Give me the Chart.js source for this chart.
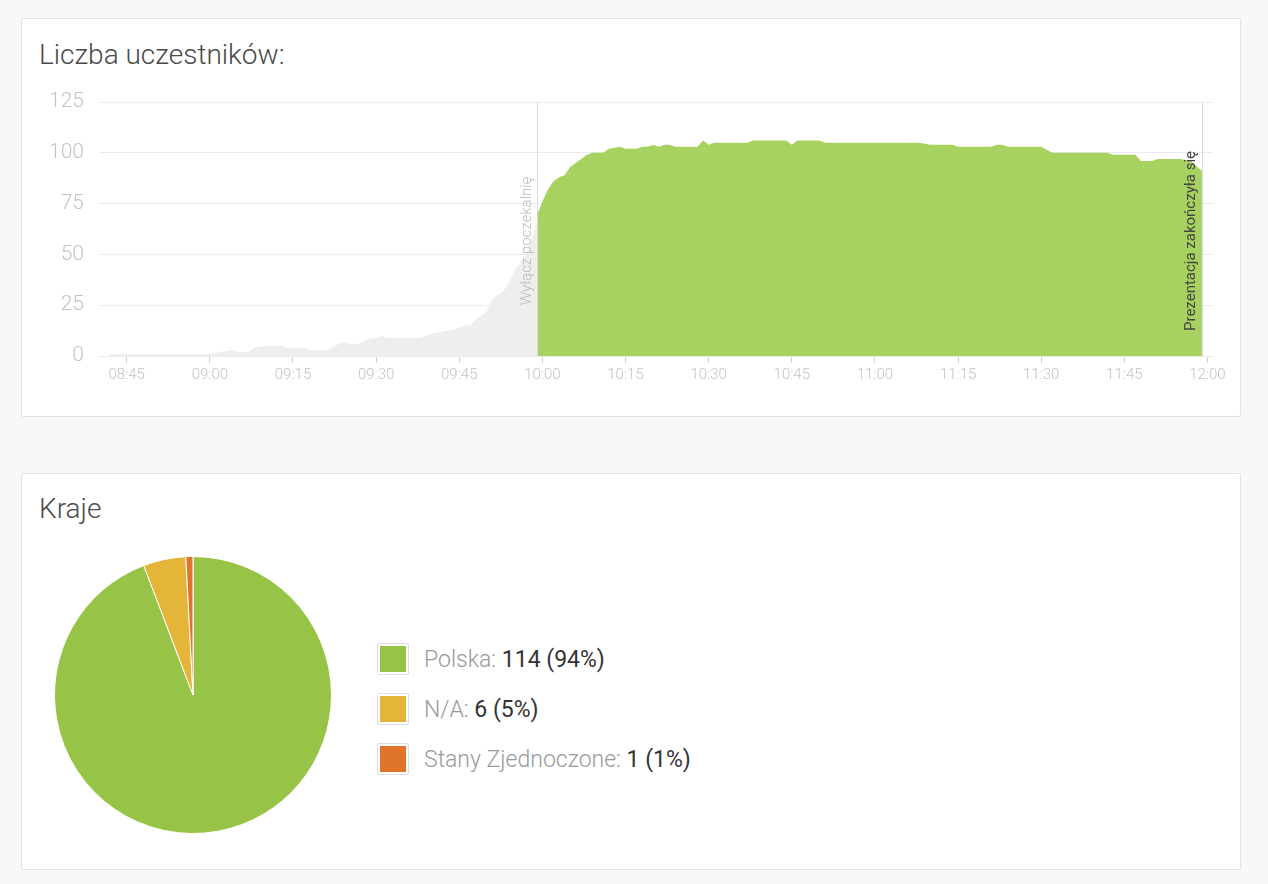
<!DOCTYPE html>
<html>
<head>
<meta charset="utf-8">
<script src="https://cdn.jsdelivr.net/npm/chart.js@4.4.0/dist/chart.umd.min.js"></script>
<style>
html,body{margin:0;padding:0;background:#f8f8f8;width:1268px;height:884px;overflow:hidden;font-family:Roboto,'Noto Sans',sans-serif;}
.card{position:absolute;left:21px;width:1218px;background:#fff;border:1px solid #e3e3e3;border-radius:2px;}
#card1{top:18px;height:397px;}
#card2{top:473px;height:395px;}
.title{position:absolute;left:39px;font-weight:300;color:#4a4a4a;font-size:28px;line-height:1;white-space:nowrap;}
#t1{top:41px;}
#t2{top:495px;}
#c1{position:absolute;left:22px;top:90px;}
#c2{position:absolute;left:54px;top:556px;}
#legend{position:absolute;left:377px;top:643px;}
.lg{position:absolute;left:0;height:32px;display:flex;align-items:center;white-space:nowrap;font-size:23px;}
.sw{width:32px;height:32px;box-sizing:border-box;border:1px solid #dedede;border-radius:2px;padding:2px;background:#fff;margin-right:15px;flex:none;}
.sw i{display:block;width:100%;height:100%;}
.lb{color:#9a9a9a;font-weight:300;}
.vl{color:#333;font-weight:400;}
</style>
</head>
<body>
<div class="card" id="card1"></div>
<div class="card" id="card2"></div>
<div class="title" id="t1">Liczba uczestników:</div>
<div class="title" id="t2">Kraje</div>
<canvas id="c1" width="1218" height="310"></canvas>
<canvas id="c2" width="278" height="278"></canvas>
<div id="legend"></div>
<script>
// ---- data ----
const waitingTimes = ['08:42','09:00','09:02','09:04','09:05','09:07','09:08','09:10','09:13','09:14','09:17','09:18','09:21','09:22','09:24','09:25','09:27','09:28','09:30','09:31','09:32','09:38','09:39','09:40','09:42','09:44','09:45','09:46','09:47','09:48','09:50','09:51','09:53','09:54','09:55','09:56','09:57','09:58','09:59'];
const waitingCounts = [1,1,2,3,2,2,4,5,5,4,4,3,3,4,7,6,6,8,9,10,9,9,10,11,12,13,14,15,15,18,22,28,32,36,42,46,50,56,66];
const liveTimes = ['09:59','10:00','10:01','10:02','10:03','10:04','10:05','10:06','10:07','10:08','10:09','10:11','10:12','10:14','10:15','10:17','10:18','10:19','10:20','10:21','10:22','10:23','10:24','10:28','10:29','10:30','10:31','10:37','10:38','10:44','10:45','10:46','10:50','10:51','11:08','11:10','11:14','11:15','11:21','11:22','11:23','11:24','11:30','11:32','11:42','11:43','11:47','11:48','11:50','11:51','11:55','11:57','11:59'];
const liveCounts = [69,76,82,86,88,89,93,95,97,99,100,100,102,103,102,102,103,103,104,103,104,104,103,103,106,104,105,105,106,106,104,106,106,105,105,104,104,103,103,104,104,103,103,100,100,99,99,96,96,97,97,96,91];
const tickTimes = ['08:45','09:00','09:15','09:30','09:45','10:00','10:15','10:30','10:45','11:00','11:15','11:30','11:45','12:00'];
const axisRange = ['08:40','12:01'];
const yTicks = [0,25,50,75,100,125];
const eventTimes = ['09:59','11:59'];
const eventLabels = ['Wyłącz poczekalnię','Prezentacja zakończyła się'];
const countryNames = ['Polska','N/A','Stany Zjednoczone'];
const countryCounts = [114,6,1];
const countryColors = ['#97c446','#e5b53a','#e0742a'];

// ---- helpers ----
const toMin = s => { const p = s.split(':').map(Number); return p[0]*60 + p[1]; };
const fmt = v => String(Math.floor(v/60)).padStart(2,'0') + ':' + String(Math.round(v%60)).padStart(2,'0');
const pts = (ts, vs) => ts.map((t,i) => ({x: toMin(t), y: vs[i]}));

const eventPlugin = {
  id: 'eventLines',
  afterDatasetsDraw(chart) {
    const {ctx, chartArea, scales} = chart;
    const midY = (chartArea.top + chartArea.bottom) / 2 + 12;
    eventTimes.forEach((t, i) => {
      const px = Math.round(scales.x.getPixelForValue(toMin(t))) + 0.5;
      ctx.save();
      ctx.strokeStyle = '#dadada';
      ctx.lineWidth = 1;
      ctx.beginPath();
      ctx.moveTo(px, chartArea.top);
      ctx.lineTo(px, chartArea.bottom);
      ctx.stroke();
      ctx.translate(px - (i === 0 ? 7 : 8), midY);
      ctx.rotate(-Math.PI / 2);
      ctx.textAlign = 'center';
      ctx.textBaseline = 'alphabetic';
      ctx.font = (i === 0 ? '300 ' : '400 ') + '15px Roboto';
      ctx.fillStyle = i === 0 ? '#b9b9b9' : '#444';
      ctx.fillText(eventLabels[i], 0, 0);
      ctx.restore();
    });
  }
};

new Chart(document.getElementById('c1'), {
  type: 'line',
  data: {
    datasets: [
      {data: pts(liveTimes, liveCounts), fill: 'origin', backgroundColor: 'rgba(152,202,68,0.85)', borderWidth: 0, pointRadius: 0, tension: 0},
      {data: pts(waitingTimes, waitingCounts), fill: 'origin', backgroundColor: '#eeeeee', borderWidth: 0, pointRadius: 0, tension: 0}
    ]
  },
  options: {
    responsive: false,
    animation: false,
    layout: {padding: {top: 12, right: 27, left: 0, bottom: 0}},
    plugins: {legend: {display: false}, tooltip: {enabled: false}},
    scales: {
      x: {
        type: 'linear',
        min: toMin(axisRange[0]),
        max: toMin(axisRange[1]),
        afterBuildTicks: a => { a.ticks = tickTimes.map(t => ({value: toMin(t)})); },
        afterFit: a => { a.height = 44; a.paddingLeft = 0; a.paddingRight = 0; },
        ticks: {callback: v => fmt(v), color: '#c3c3c3', font: {family: 'Roboto', size: 15, weight: '300'}, padding: 3, maxRotation: 0, autoSkip: false},
        grid: {drawOnChartArea: false, drawTicks: true, tickLength: 7, color: '#d3d3d3'},
        border: {display: false}
      },
      y: {
        min: yTicks[0],
        max: yTicks[yTicks.length - 1],
        afterBuildTicks: a => { a.ticks = yTicks.map(v => ({value: v})); },
        afterFit: a => { a.width = 77; a.paddingTop = 0; a.paddingBottom = 0; },
        ticks: {color: '#c3c3c3', font: {family: 'Roboto', size: 21, weight: '300'}, padding: 15},
        grid: {color: '#ebebeb', drawTicks: false},
        border: {display: false}
      }
    }
  },
  plugins: [eventPlugin]
});

new Chart(document.getElementById('c2'), {
  type: 'pie',
  data: {labels: countryNames, datasets: [{data: countryCounts, backgroundColor: countryColors, borderColor: '#ffffff', borderWidth: 1}]},
  options: {responsive: false, animation: false, layout: {padding: 0}, plugins: {legend: {display: false}, tooltip: {enabled: false}}}
});

// HTML legend built from the data
const total = countryCounts.reduce((a, b) => a + b, 0);
const lg = document.getElementById('legend');
countryNames.forEach((n, i) => {
  const row = document.createElement('div');
  row.className = 'lg';
  row.style.top = (i * 50) + 'px';
  row.innerHTML = '<span class="sw"><i style="background:' + countryColors[i] + '"></i></span>' +
    '<span class="lb">' + n + ':&nbsp;</span><span class="vl">' + countryCounts[i] + ' (' + Math.round(countryCounts[i] / total * 100) + '%)</span>';
  lg.appendChild(row);
});
</script>
</body>
</html>
